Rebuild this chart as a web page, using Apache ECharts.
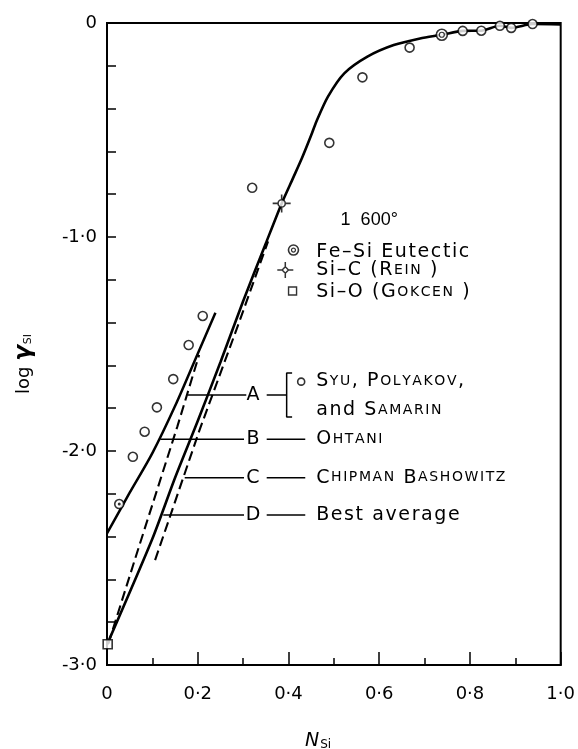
<!DOCTYPE html>
<html>
<head>
<meta charset="utf-8">
<script src="https://cdn.jsdelivr.net/npm/echarts@6/dist/echarts.min.js"></script>
<style>
  html, body { margin: 0; padding: 0; background: #fff; }
  #chart { width: 578px; height: 749px; }
</style>
</head>
<body>
<div id="chart"></div>
<script>
const INK = '#000';
const FONT = 'DejaVu Sans';

// Axis tick labels
const xTickLabels = ['0', '0·2', '0·4', '0·6', '0·8', '1·0'];
const yTickLabels = ['-3·0', '-2·0', '-1·0', '0'];

// Syu, Polyakov and Samarin: mole fraction Si and log activity coefficient
const syuN   = [0.027, 0.057, 0.083, 0.110, 0.146, 0.180, 0.211, 0.320, 0.490, 0.563, 0.667, 0.784, 0.825, 0.866, 0.891, 0.938];
const syuLog = [-2.248, -2.027, -1.910, -1.796, -1.664, -1.505, -1.369, -0.770, -0.560, -0.254, -0.115, -0.037, -0.036, -0.013, -0.023, -0.005];
const syuDottedIndex = [0];

// Single determinations
const eutecticN = [0.738],  eutecticLog = [-0.055];   // Fe-Si eutectic
const reinN     = [0.385],  reinLog     = [-0.843];   // Si-C (Rein)
const gokcenN   = [0.0015], gokcenLog   = [-2.903];   // Si-O (Gokcen)

// A: fit to the Syu, Polyakov, Samarin points
const lineAN   = [0, 0.05, 0.10, 0.15, 0.20, 0.239];
const lineALog = [-2.385, -2.195, -2.01, -1.79, -1.545, -1.354];
// B: Ohtani (dashed)
const lineBN   = [0.003, 0.07, 0.155, 0.203];
const lineBLog = [-2.90, -2.45, -1.886, -1.551];
// C: Chipman, Bashowitz (dashed)
const lineCN   = [0.106, 0.2043, 0.291, 0.355];
const lineCLog = [-2.51, -1.90, -1.40, -1.02];
// D: best average curve
const lineDN   = [0, 0.10, 0.15, 0.20, 0.25, 0.30, 0.35, 0.385, 0.41, 0.43, 0.45, 0.4616, 0.487, 0.523, 0.574, 0.632, 0.69, 0.738, 0.784, 0.825, 0.866, 0.891, 0.938, 1.0];
const lineDLog = [-2.905, -2.41, -2.125, -1.86, -1.585, -1.30, -1.03, -0.843, -0.725, -0.63, -0.525, -0.46, -0.344, -0.235, -0.157, -0.103, -0.072, -0.055, -0.037, -0.036, -0.013, -0.023, -0.005, -0.007];

const zip = (xs, ys) => xs.map((x, i) => [x, ys[i]]);

// Key: leader rows (y level, leader start, leader end)
const keyRows = [
  { letter: 'A', y: -1.738, from: 0.178, to: 0.307 },
  { letter: 'B', y: -1.945, from: 0.1174, to: 0.302 },
  { letter: 'C', y: -2.125, from: 0.1713, to: 0.302 },
  { letter: 'D', y: -2.299, from: 0.124, to: 0.302 }
];
const keyLetterX = 0.3217, keyDashFrom = 0.352, keyDashTo = 0.437, keyBracketX = 0.396, keyTextX = 0.461;

// Letter-spaced text: every character becomes its own rich token ('c' full size, 's' small capitals)
const sp = (str, style) => str.split('').map(ch => '{' + style + '|' + ch + '}').join('');
const keyTexts = [
  { at: [keyTextX, -1.673], text: sp('S', 'c') + sp('YU', 's') + sp(', P', 'c') + sp('OLYAKOV', 's') + sp(',', 'c') },
  { at: [keyTextX, -1.808], text: sp('and S', 'c') + sp('AMARIN', 's') },
  { at: [keyTextX, -1.945], text: sp('O', 'c') + sp('HTANI', 's') },
  { at: [keyTextX, -2.125], text: sp('C', 'c') + sp('HIPMAN', 's') + sp(' B', 'c') + sp('ASHOWITZ', 's') },
  { at: [keyTextX, -2.299], text: sp('Best average', 'c') },
  { at: [keyTextX, -1.070], text: sp('Fe–Si Eutectic', 'c') },
  { at: [keyTextX, -1.154], text: sp('Si–C (R', 'c') + sp('EIN', 's') + sp(' )', 'c') },
  { at: [keyTextX, -1.257], text: sp('Si–O (G', 'c') + sp('OKCEN', 's') + sp(' )', 'c') }
];

const richStyles = {
  c: { fontSize: 19, fontFamily: FONT, color: INK, padding: [0, 1.6, 0, 0] },
  s: { fontSize: 14, fontFamily: FONT, color: INK, padding: [0, 1.6, 0, 0] }
};

const thinLine = (data) => ({
  type: 'line', data, symbol: 'none', silent: true, z: 3,
  lineStyle: { color: INK, width: 1.5 }
});

const series = [
  { type: 'line', name: 'D', data: zip(lineDN, lineDLog), symbol: 'none', smooth: 0.25, z: 4,
    lineStyle: { color: INK, width: 2.6 } },
  { type: 'line', name: 'A', data: zip(lineAN, lineALog), symbol: 'none', smooth: 0.3, z: 4,
    lineStyle: { color: INK, width: 2.5 } },
  { type: 'line', name: 'B', data: zip(lineBN, lineBLog), symbol: 'none', z: 4,
    lineStyle: { color: INK, width: 2.1, type: [10, 5] } },
  { type: 'line', name: 'C', data: zip(lineCN, lineCLog), symbol: 'none', z: 4,
    lineStyle: { color: INK, width: 2.1, type: [10, 5] } }
];

// leader lines and key dashes
keyRows.forEach(r => {
  series.push(thinLine([[r.from, r.y], [r.to, r.y]]));
  series.push(thinLine([[keyDashFrom, r.y], [r.letter === 'A' ? keyBracketX : keyDashTo, r.y]]));
});
// bracket grouping the Syu, Polyakov, Samarin entry
series.push(thinLine([[keyBracketX + 0.012, -1.636], [keyBracketX, -1.636], [keyBracketX, -1.841], [keyBracketX + 0.012, -1.841]]));

const openCircle = { color: '#fff', borderColor: INK, borderWidth: 1.6 };

series.push(
  { type: 'scatter', name: 'Syu', data: zip(syuN, syuLog), symbol: 'circle', symbolSize: 9,
    itemStyle: openCircle, z: 6, clip: false },
  { type: 'scatter', data: syuDottedIndex.map(i => [syuN[i], syuLog[i]]), symbol: 'circle', symbolSize: 3,
    itemStyle: { color: INK }, z: 7, clip: false },
  // Fe-Si eutectic (double circle)
  { type: 'scatter', data: zip(eutecticN, eutecticLog), symbol: 'circle', symbolSize: 11,
    itemStyle: openCircle, z: 6 },
  { type: 'scatter', data: zip(eutecticN, eutecticLog), symbol: 'circle', symbolSize: 5,
    itemStyle: { color: '#fff', borderColor: INK, borderWidth: 1.2 }, z: 7 },
  // Si-C (Rein)
  { type: 'scatter', data: zip(reinN, reinLog),
    symbol: 'path://M-10,0L-4,0M4,0L10,0M0,-10L0,-4M0,4L0,10M4,0A4,4 0 1,1 -4,0A4,4 0 1,1 4,0Z',
    symbolSize: 18, itemStyle: { color: '#fff', borderColor: INK, borderWidth: 1.6 }, z: 6 },
  // Si-O (Gokcen)
  { type: 'scatter', data: zip(gokcenN, gokcenLog), symbol: 'rect', symbolSize: 9,
    itemStyle: { color: '#fff', borderColor: INK, borderWidth: 1.6 }, z: 6, clip: false },
  // key symbols
  { type: 'scatter', data: [[0.411, -1.061]], symbol: 'circle', symbolSize: 10, itemStyle: openCircle, z: 6 },
  { type: 'scatter', data: [[0.411, -1.061]], symbol: 'circle', symbolSize: 4,
    itemStyle: { color: '#fff', borderColor: INK, borderWidth: 1.2 }, z: 7 },
  { type: 'scatter', data: [[0.393, -1.154]],
    symbol: 'path://M-10,0L-4,0M4,0L10,0M0,-10L0,-4M0,4L0,10M4,0L0,4L-4,0L0,-4Z',
    symbolSize: 16, itemStyle: { color: '#fff', borderColor: INK, borderWidth: 1.5 }, z: 6 },
  { type: 'scatter', data: [[0.409, -1.252]], symbol: 'rect', symbolSize: 8,
    itemStyle: { color: '#fff', borderColor: INK, borderWidth: 1.4 }, z: 6 },
  { type: 'scatter', data: [[0.428, -1.676]], symbol: 'circle', symbolSize: 7, itemStyle: openCircle, z: 6 }
);

// text layers: symbols invisible, only labels drawn
const textLayer = (data, label) => ({
  type: 'scatter', symbolSize: 0, silent: true, z: 8,
  itemStyle: { color: INK, opacity: 1 },
  data,
  label: Object.assign({ show: true, opacity: 1, textBorderWidth: 0, formatter: p => p.name }, label)
});

// key letters A-D
series.push(textLayer(
  keyRows.map(r => ({ value: [keyLetterX, r.y], name: r.letter })),
  { position: 'inside', fontSize: 19, fontFamily: FONT, color: INK }
));
// temperature of the isotherm
series.push(textLayer(
  [{ value: [0.578, -0.921], name: '1  600°' }],
  { position: 'inside', fontSize: 18, fontFamily: 'Liberation Sans', color: INK }
));
// key descriptions
series.push(textLayer(
  keyTexts.map(t => ({ value: t.at, name: t.text })),
  { position: 'right', distance: 0, rich: richStyles }
));

const chart = echarts.init(document.getElementById('chart'));
chart.setOption({
  animation: false,
  backgroundColor: '#fff',
  grid: { left: 107, right: 12, top: 23, bottom: 84, show: true, borderColor: INK, borderWidth: 2 },
  xAxis: {
    type: 'value', min: 0, max: 1, interval: 0.2,
    axisLine: { show: true, onZero: false, lineStyle: { color: INK, width: 2 } },
    axisTick: { show: true, inside: true, length: 13, lineStyle: { color: INK, width: 1.5 } },
    minorTick: { show: true, splitNumber: 2, length: 7, lineStyle: { color: INK, width: 1.5 } },
    splitLine: { show: false },
    axisLabel: { margin: 20, fontSize: 18, fontFamily: FONT, color: INK,
      formatter: v => xTickLabels[Math.round(v / 0.2)] }
  },
  yAxis: {
    type: 'value', min: -3, max: 0, interval: 1,
    axisLine: { show: true, onZero: false, lineStyle: { color: INK, width: 2 } },
    axisTick: { show: true, inside: true, length: 9, lineStyle: { color: INK, width: 1.5 } },
    minorTick: { show: true, splitNumber: 5, length: 9, lineStyle: { color: INK, width: 1.5 } },
    splitLine: { show: false },
    axisLabel: { margin: 10, fontSize: 18, fontFamily: FONT, color: INK,
      formatter: v => yTickLabels[Math.round(v + 3)] }
  },
  graphic: [
    { type: 'text', x: 24, y: 364, rotation: Math.PI / 2,
      style: { text: '{a|log }{g|γ}{s|SI}', align: 'center', verticalAlign: 'middle',
        rich: {
          a: { fontSize: 18, fontFamily: FONT, color: INK },
          g: { fontSize: 23, fontFamily: FONT, fontStyle: 'italic', fontWeight: 'bold', color: INK },
          s: { fontSize: 11, fontFamily: FONT, color: INK, padding: [8, 0, 0, 1] }
        } } },
    { type: 'text', x: 318, y: 741,
      style: { text: '{n|N}{s|Si}', align: 'center', verticalAlign: 'middle',
        rich: {
          n: { fontSize: 19, fontFamily: FONT, fontStyle: 'italic', color: INK },
          s: { fontSize: 12, fontFamily: FONT, color: INK, padding: [8, 0, 0, 1] }
        } } }
  ],
  series
});
</script>
</body>
</html>
